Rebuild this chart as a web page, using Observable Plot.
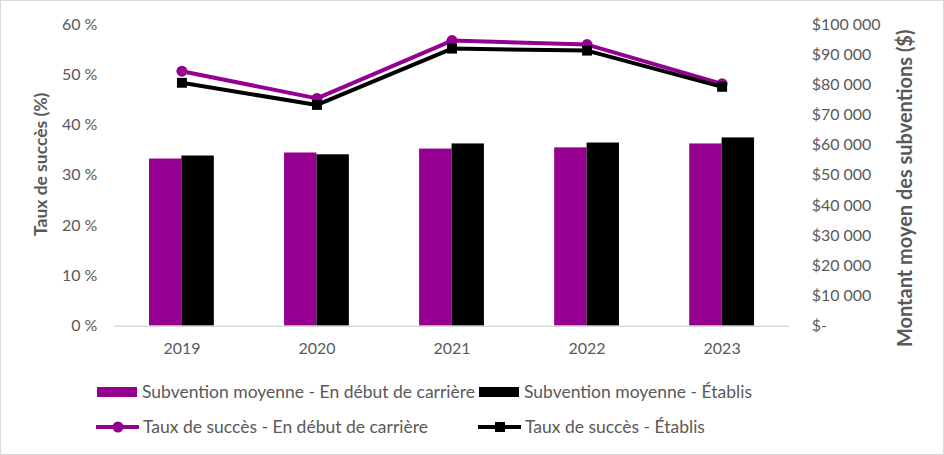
<!DOCTYPE html>
<html><head><meta charset="utf-8">
<script src="https://cdn.jsdelivr.net/npm/d3@7"></script>
<script src="https://cdn.jsdelivr.net/npm/@observablehq/plot@0.6"></script>
<style>
body{margin:0;background:#fff;}
#wrap{position:relative;width:944px;height:455px;box-sizing:border-box;border:1px solid #d9d9d9;background:#fff;font-family:Lato,"Open Sans",sans-serif;color:#595959;overflow:hidden;}
#chart{position:absolute;left:-1px;top:-1px;}
#chart g[aria-label="y-axis label"] text{font-weight:bold;}
.leg{position:absolute;display:flex;align-items:center;font-size:17.5px;color:#595959;white-space:nowrap;}
.sw{width:40px;height:10px;margin-right:5px;}
.ln{position:relative;width:43px;height:4px;margin-right:4px;}
.ln i{position:absolute;left:50%;top:50%;transform:translate(-50%,-50%);}
</style></head>
<body>
<div id="wrap"><div id="chart"></div>
<div class="leg" style="left:96px;top:380px"><div class="sw" style="background:#950090"></div><span id="l0"></span></div>
<div class="leg" style="left:478px;top:380px"><div class="sw" style="background:#000"></div><span id="l1"></span></div>
<div class="leg" style="left:95px;top:415px"><div class="ln" style="background:#950090"><i style="width:11px;height:11px;border-radius:50%;background:#950090"></i></div><span id="l2"></span></div>
<div class="leg" style="left:477px;top:415px"><div class="ln" style="background:#000"><i style="width:10px;height:10px;background:#000"></i></div><span id="l3"></span></div>
</div>
<script>
const years = [2019, 2020, 2021, 2022, 2023];
const subDebut = [55400, 57400, 58700, 59100, 60400];
const subEtablis = [56400, 56800, 60400, 60700, 62400];
const tauxDebut = [50.7, 45.3, 56.8, 56.0, 48.2];
const tauxEtablis = [48.4, 44.0, 55.2, 54.8, 47.6];
const leftTicks = [0, 10, 20, 30, 40, 50, 60];
const leftLabels = ["0 %", "10 %", "20 %", "30 %", "40 %", "50 %", "60 %"];
const rightTicks = [0, 10000, 20000, 30000, 40000, 50000, 60000, 70000, 80000, 90000, 100000];
const rightLabels = ["$-", "$10 000", "$20 000", "$30 000", "$40 000", "$50 000", "$60 000", "$70 000", "$80 000", "$90 000", "$100 000"];
const seriesNames = ["Subvention moyenne - En début de carrière", "Subvention moyenne - Établis", "Taux de succès - En début de carrière", "Taux de succès - Établis"];
const leftTitle = "Taux de succès (%)";
const rightTitle = "Montant moyen des subventions ($)";

const PURPLE = "#950090";
const yMax = 60, dMax = 100000;
const toY = v => v * yMax / dMax;
const half = 0.24;

const bars = years.flatMap((y, i) => [
  {x1: y - half, x2: y, v: toY(subDebut[i]), s: 0},
  {x1: y, x2: y + half, v: toY(subEtablis[i]), s: 1}
]);
const lineD = years.map((y, i) => ({year: y, v: tauxDebut[i]}));
const lineE = years.map((y, i) => ({year: y, v: tauxEtablis[i]}));

const plot = Plot.plot({
  width: 944,
  height: 365,
  marginLeft: 114,
  marginRight: 154,
  marginTop: 24,
  marginBottom: 39,
  style: {fontFamily: "Lato, 'Open Sans', sans-serif", fontSize: "16px", color: "#595959", background: "transparent"},
  x: {domain: [years[0] - 0.5, years[years.length - 1] + 0.5]},
  y: {domain: [0, yMax]},
  marks: [
    Plot.axisX({ticks: years, tickFormat: "d", tickSize: 0, tickPadding: 17, label: null}),
    Plot.axisY({anchor: "left", ticks: leftTicks, tickFormat: (d, i) => leftLabels[i], tickSize: 0, tickPadding: 17,
      label: leftTitle, labelAnchor: "center", labelArrow: "none", labelOffset: 80}),
    Plot.axisY({anchor: "right", ticks: rightTicks.map(toY), tickFormat: (d, i) => rightLabels[i], tickSize: 0, tickPadding: 22, textAnchor: "start",
      label: rightTitle, labelAnchor: "center", labelArrow: "none", labelOffset: 122}),
    Plot.rectY(bars, {x1: "x1", x2: "x2", y: "v", fill: d => d.s === 0 ? PURPLE : "#000"}),
    Plot.ruleY([0], {stroke: "#d9d9d9", strokeWidth: 1.5}),
    Plot.line(lineD, {x: "year", y: "v", stroke: PURPLE, strokeWidth: 4}),
    Plot.dot(lineD, {x: "year", y: "v", fill: PURPLE, r: 5.5, symbol: "circle"}),
    Plot.line(lineE, {x: "year", y: "v", stroke: "#000", strokeWidth: 4}),
    Plot.dot(lineE, {x: "year", y: "v", fill: "#000", r: 5.6, symbol: "square"})
  ]
});
// fine-tune the two axis titles (size and vertical position)
const titles = plot.querySelectorAll('g[aria-label="y-axis label"]');
const tune = [{size: "17.5px", dy: -11}, {size: "20px", dy: 13}];
titles.forEach((g, i) => {
  const t = tune[i]; if (!t) return;
  g.querySelectorAll("text").forEach(tx => tx.style.fontSize = t.size);
  g.setAttribute("transform", `translate(0,${t.dy}) ` + (g.getAttribute("transform") || ""));
});
document.getElementById("chart").appendChild(plot);
seriesNames.forEach((n, i) => document.getElementById("l" + i).textContent = n);
</script>
</body></html>
